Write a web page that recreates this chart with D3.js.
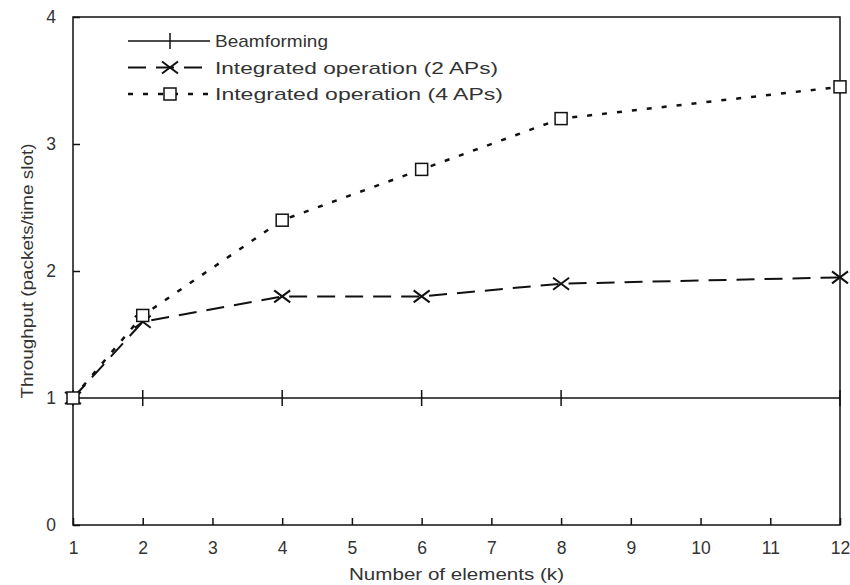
<!DOCTYPE html>
<html>
<head>
<meta charset="utf-8">
<script src="https://cdn.jsdelivr.net/npm/d3@7"></script>
<style>
  body { margin: 0; background: #fff; }
  svg text { font-family: "Liberation Sans", Arial, sans-serif; fill: #333; }
</style>
</head>
<body>
<div id="chart"></div>
<script>
// x positions (number of elements k)
const elements = [1, 2, 4, 6, 8, 12];
const beamforming = [1, 1, 1, 1, 1, 1];
const integrated2 = [1, 1.6, 1.8, 1.8, 1.9, 1.95];
const integrated4 = [1, 1.65, 2.4, 2.8, 3.2, 3.45];
const xTicks = [1, 2, 3, 4, 5, 6, 7, 8, 9, 10, 11, 12];
const yTicks = [0, 1, 2, 3, 4];
const seriesNames = ["Beamforming", "Integrated operation (2 APs)", "Integrated operation (4 APs)"];

const width = 850, height = 585;
const margin = { top: 17, right: 10, bottom: 60, left: 73 };

const x = d3.scaleLinear().domain([1, 12]).range([margin.left, width - margin.right]);
const y = d3.scaleLinear().domain([0, 4]).range([height - margin.bottom, margin.top]);

const svg = d3.select("#chart").append("svg")
    .attr("width", width)
    .attr("height", height);

// frame
svg.append("rect")
    .attr("x", x(1)).attr("y", y(4))
    .attr("width", x(12) - x(1)).attr("height", y(0) - y(4))
    .attr("fill", "none").attr("stroke", "#111").attr("stroke-width", 1.5);

// axes, ticks pointing inward
const xAxis = svg.append("g")
    .attr("transform", `translate(0,${y(0)})`)
    .call(d3.axisBottom(x).tickValues(xTicks).tickSize(-7).tickPadding(17).tickFormat(d3.format("d")));
xAxis.select(".domain").remove();
xAxis.selectAll("line").attr("stroke", "#111").attr("stroke-width", 1.5);
xAxis.selectAll("text").attr("font-size", 17.5).attr("fill", "#333")
    .attr("font-family", "Liberation Sans, Arial, sans-serif");

const yAxis = svg.append("g")
    .attr("transform", `translate(${x(1)},0)`)
    .call(d3.axisLeft(y).tickValues(yTicks).tickSize(-7).tickPadding(17).tickFormat(d3.format("d")));
yAxis.select(".domain").remove();
yAxis.selectAll("line").attr("stroke", "#111").attr("stroke-width", 1.5);
yAxis.selectAll("text").attr("font-size", 17.5).attr("fill", "#333")
    .attr("font-family", "Liberation Sans, Arial, sans-serif");

// axis titles
svg.append("text")
    .attr("x", (x(1) + x(12)) / 2 + 0).attr("y", 580)
    .attr("text-anchor", "middle")
    .attr("font-size", 16.5)
    .attr("textLength", 215).attr("lengthAdjust", "spacingAndGlyphs")
    .text("Number of elements (k)");

svg.append("text")
    .attr("transform", `translate(33,${(y(0) + y(4)) / 2}) rotate(-90)`)
    .attr("text-anchor", "middle")
    .attr("font-size", 16.5)
    .attr("textLength", 255).attr("lengthAdjust", "spacingAndGlyphs")
    .text("Throughput (packets/time slot)");

const styles = [
  { values: beamforming, dash: null, width: 1.5, marker: "plus", len: 113 },
  { values: integrated2, dash: "18,10", width: 2, marker: "cross", len: 283 },
  { values: integrated4, dash: "5,10", width: 2.5, marker: "square", len: 288 }
];

const line = d3.line().x(d => x(d[0])).y(d => y(d[1]));

function drawMarker(g, type, cx, cy) {
  if (type === "plus") {
    g.append("line").attr("x1", cx).attr("x2", cx).attr("y1", cy - 8).attr("y2", cy + 8)
        .attr("stroke", "#111").attr("stroke-width", 1.5);
  } else if (type === "cross") {
    g.append("path").attr("d", `M${cx - 8},${cy - 6}L${cx + 8},${cy + 6}M${cx - 8},${cy + 6}L${cx + 8},${cy - 6}`)
        .attr("stroke", "#111").attr("stroke-width", 2).attr("fill", "none");
  } else {
    g.append("rect").attr("x", cx - 6).attr("y", cy - 6).attr("width", 12).attr("height", 12)
        .attr("stroke", "#111").attr("stroke-width", 1.5).attr("fill", "#fff");
  }
}

styles.forEach(s => {
  const pts = elements.map((e, i) => [e, s.values[i]]);
  svg.append("path")
      .attr("d", line(pts))
      .attr("fill", "none")
      .attr("stroke", "#111")
      .attr("stroke-width", s.width)
      .attr("stroke-dasharray", s.dash);
  const g = svg.append("g");
  pts.forEach(p => drawMarker(g, s.marker, x(p[0]), y(p[1])));
});

// legend
const legend = svg.append("g");
seriesNames.forEach((name, i) => {
  const ly = 41 + i * 26.5;
  const s = styles[i];
  legend.append("line")
      .attr("x1", 128).attr("x2", 210).attr("y1", ly).attr("y2", ly)
      .attr("stroke", "#111").attr("stroke-width", s.width)
      .attr("stroke-dasharray", s.dash);
  drawMarker(legend, s.marker, 170, ly);
  legend.append("text")
      .attr("x", 215).attr("y", ly).attr("dy", "0.36em")
      .attr("font-size", 17)
      .attr("textLength", s.len).attr("lengthAdjust", "spacingAndGlyphs")
      .text(name);
});
</script>
</body>
</html>
